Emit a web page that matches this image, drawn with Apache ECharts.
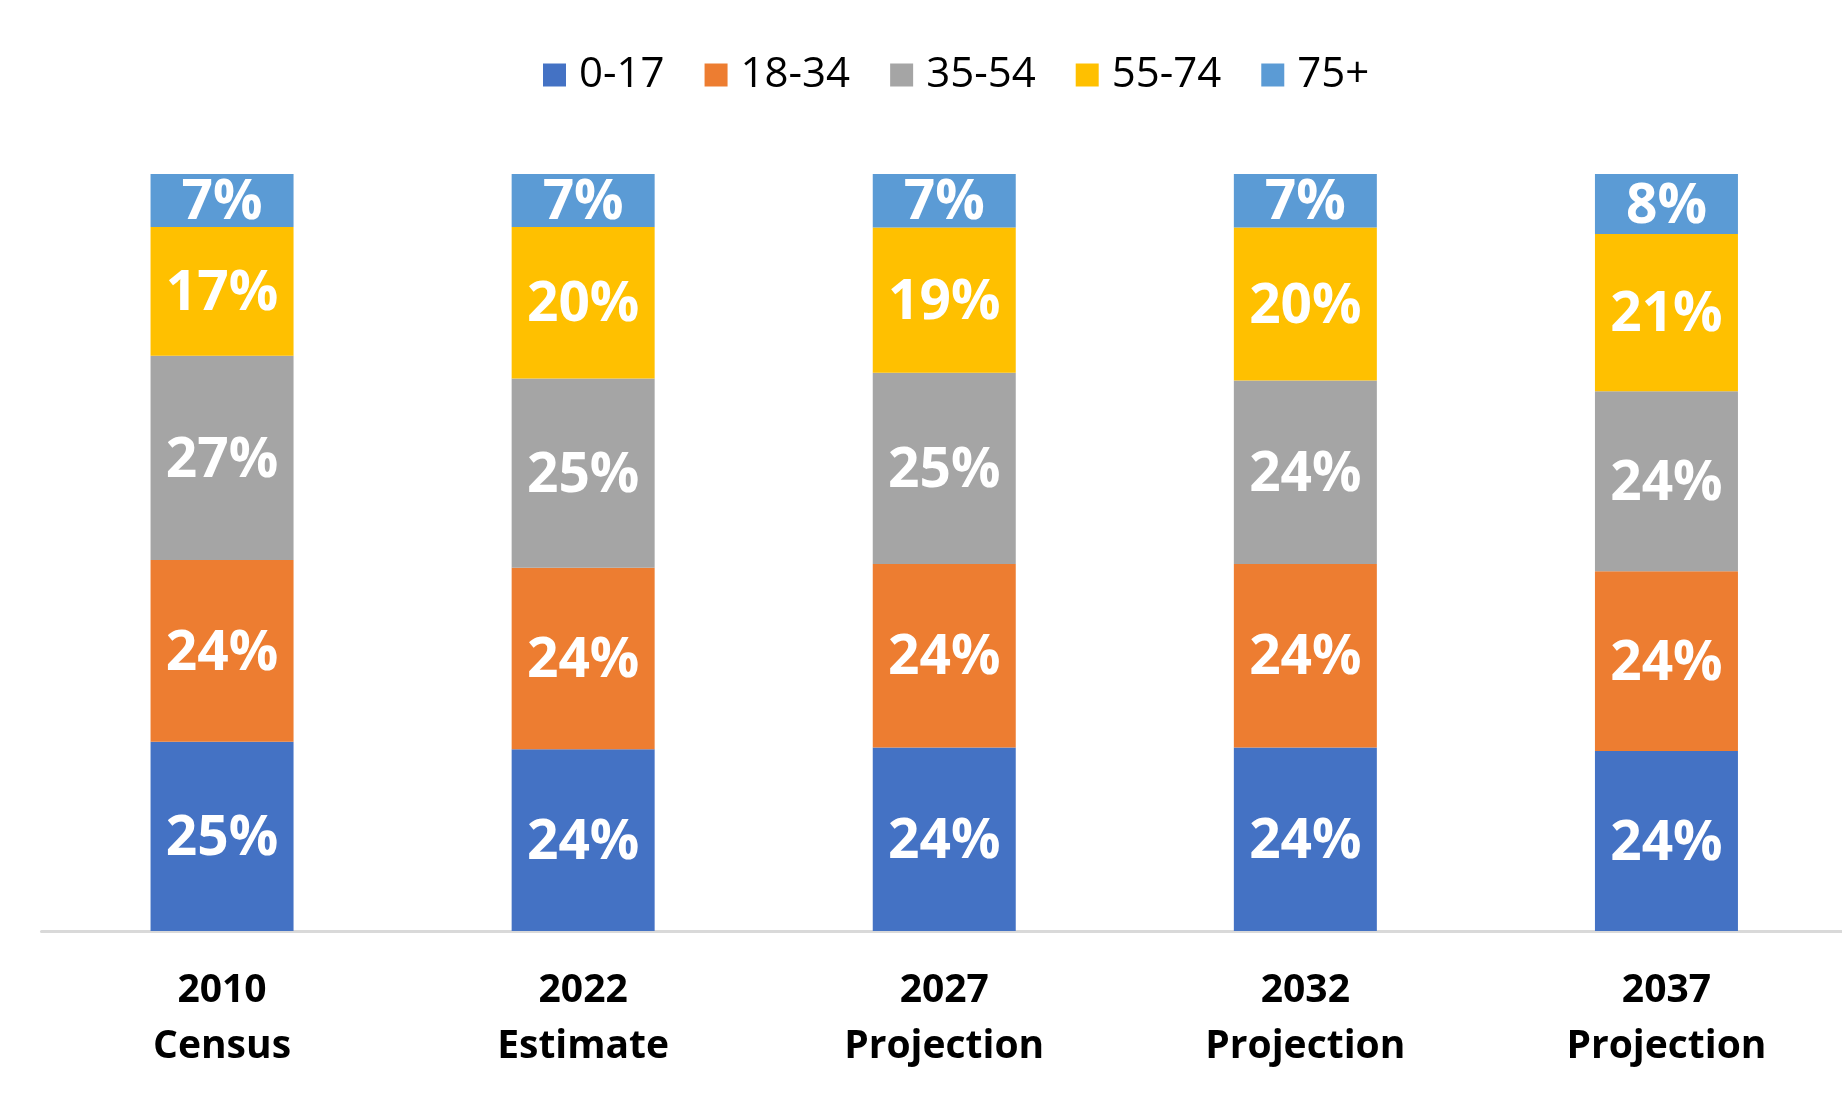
<!DOCTYPE html>
<html>
<head>
<meta charset="utf-8">
<script src="https://cdn.jsdelivr.net/npm/echarts@6/dist/echarts.min.js"></script>
<style>
  html, body { margin: 0; padding: 0; background: #ffffff; overflow: hidden; }
  /* the plot runs a few pixels past the right edge of the window */
  #chart { width: 1847px; height: 1106px; }
</style>
</head>
<body>
<div id="chart"></div>
<script>
// Population share by age group, census year and projections
const categories = ['2010\nCensus', '2022\nEstimate', '2027\nProjection', '2032\nProjection', '2037\nProjection'];
const ageGroups = ['0-17', '18-34', '35-54', '55-74', '75+'];
const age0to17  = [25, 24, 24, 24, 24];
const age18to34 = [24, 24, 24, 24, 24];
const age35to54 = [27, 25, 25, 24, 24];
const age55to74 = [17, 20, 19, 20, 21];
const age75plus = [7, 7, 7, 7, 8];

const groupValues = [age0to17, age18to34, age35to54, age55to74, age75plus];
const groupColors = ['#4472C4', '#ED7D31', '#A5A5A5', '#FFC000', '#5B9BD5'];

// Column totals, so each column fills the full 100% height
const totals = categories.map((_, i) => groupValues.reduce((s, arr) => s + arr[i], 0));

const series = ageGroups.map((name, g) => ({
  name: name,
  type: 'bar',
  stack: 'share',
  barWidth: 143,
  itemStyle: { color: groupColors[g] },
  label: {
    show: true,
    position: 'inside',
    offset: [0, 3],
    color: '#ffffff',
    fontFamily: '"Open Sans", "Noto Sans", sans-serif',
    fontWeight: 'bold',
    fontSize: 55,
    formatter: p => p.data.pct + '%'
  },
  emphasis: { disabled: true },
  data: groupValues[g].map((v, i) => ({ value: v / totals[i] * 100, pct: v }))
}));

const chart = echarts.init(document.getElementById('chart'));
chart.setOption({
  animation: false,
  backgroundColor: '#ffffff',
  legend: {
    data: ageGroups,
    left: 543,
    top: 54,
    padding: 0,
    icon: 'rect',
    itemWidth: 23,
    itemHeight: 23,
    itemGap: 40,
    textStyle: {
      color: '#000000',
      fontFamily: '"Open Sans", "Noto Sans", sans-serif',
      fontSize: 42,
      padding: [0, 0, 0, 8]
    }
  },
  grid: { left: 41.5, right: 0, top: 174, bottom: 175, containLabel: false },
  xAxis: {
    type: 'category',
    data: categories,
    axisTick: { show: false },
    axisLine: { show: true, lineStyle: { color: '#d9d9d9', width: 3 } },
    axisLabel: {
      color: '#000000',
      fontFamily: '"Open Sans", "Noto Sans", sans-serif',
      fontWeight: 'bold',
      fontSize: 39,
      lineHeight: 56,
      margin: 32,
      interval: 0
    }
  },
  yAxis: { type: 'value', min: 0, max: 100, show: false },
  series: series
});
</script>
</body>
</html>
